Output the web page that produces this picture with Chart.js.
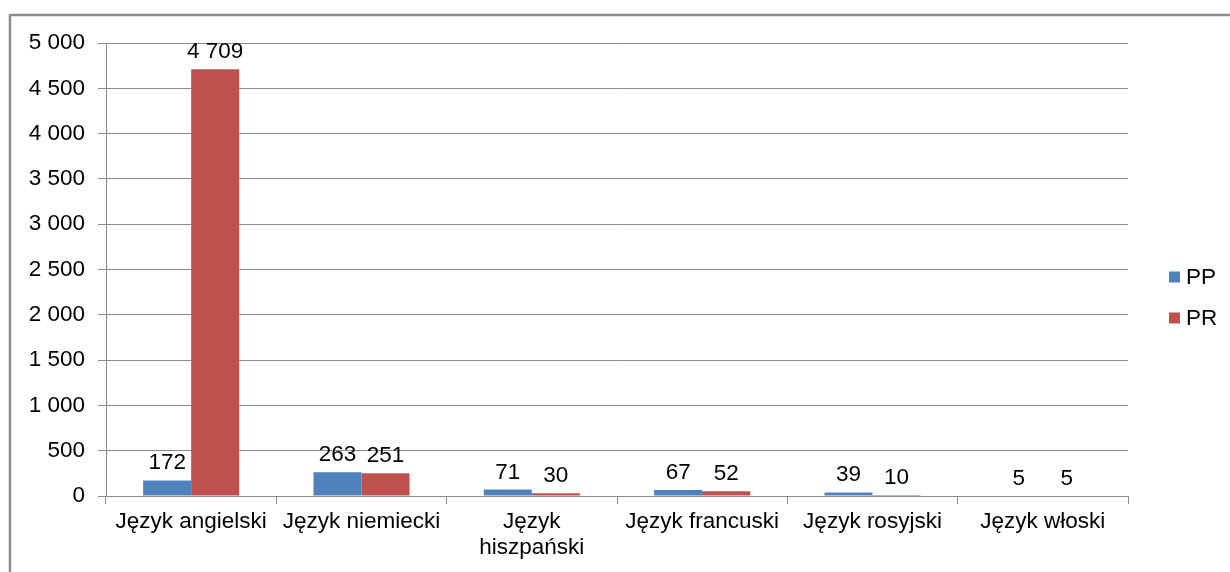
<!DOCTYPE html>
<html>
<head>
<meta charset="utf-8">
<script src="https://cdn.jsdelivr.net/npm/chart.js@4.4.1/dist/chart.umd.min.js"></script>
<style>
  html, body { margin: 0; padding: 0; background: #fff; }
  #wrap { width: 1230px; height: 572px; }
</style>
</head>
<body>
<div id="wrap"><canvas id="chart" width="1230" height="572"></canvas></div>
<script>
const categories = ['Język angielski', 'Język niemiecki', ['Język', 'hiszpański'], 'Język francuski', 'Język rosyjski', 'Język włoski'];
const seriesNames = ['PP', 'PR'];
const ppValues = [172, 263, 71, 67, 39, 5];
const prValues = [4709, 251, 30, 52, 10, 5];
const colors = ['#4F81BD', '#C0504D'];

const FONT = '"Liberation Sans", Arial, sans-serif';
const SIZE = 22.5;
const fmt = v => String(v).replace(/\B(?=(\d{3})+(?!\d))/g, ' ');

// frame, value labels and legend drawn by hand to match the Excel look
const extras = {
    id: 'extras',
    beforeDraw(chart) {
        const ctx = chart.ctx;
        ctx.save();
        ctx.strokeStyle = '#8c8c8c';
        ctx.lineWidth = 2.5;
        ctx.strokeRect(10, 15, 1240, 580);
        ctx.restore();
    },
    afterDatasetsDraw(chart) {
        const ctx = chart.ctx;
        ctx.save();
        ctx.font = SIZE + 'px ' + FONT;
        ctx.fillStyle = '#000';
        ctx.textAlign = 'center';
        ctx.textBaseline = 'bottom';
        chart.data.datasets.forEach((ds, i) => {
            chart.getDatasetMeta(i).data.forEach((bar, j) => {
                ctx.fillText(fmt(ds.data[j]), bar.x, bar.y - 6);
            });
        });
        // legend
        const ys = [277, 318];
        ctx.textAlign = 'left';
        ctx.textBaseline = 'middle';
        chart.data.datasets.forEach((ds, i) => {
            ctx.fillStyle = ds.backgroundColor;
            ctx.fillRect(1169, ys[i] - 5.5, 11, 11);
            ctx.fillStyle = '#000';
            ctx.fillText(ds.label, 1186, ys[i] + 1);
        });
        ctx.restore();
    }
};

new Chart(document.getElementById('chart'), {
    type: 'bar',
    data: {
        labels: categories,
        datasets: [
            { label: seriesNames[0], data: ppValues, backgroundColor: colors[0] },
            { label: seriesNames[1], data: prValues, backgroundColor: colors[1] }
        ]
    },
    options: {
        responsive: false,
        animation: false,
        devicePixelRatio: 1,
        layout: { padding: { top: 43, right: 102, left: 0, bottom: 0 } },
        datasets: { bar: { categoryPercentage: 0.564, barPercentage: 1 } },
        plugins: { legend: { display: false }, tooltip: { enabled: false } },
        scales: {
            x: {
                offset: true,
                grid: { offset: true, drawOnChartArea: false, drawTicks: true, tickLength: 8, color: '#8c8c8c' },
                border: { color: '#8c8c8c', width: 1 },
                ticks: { autoSkip: false, maxRotation: 0, color: '#000',
                    font: { family: FONT, size: SIZE, lineHeight: 1.15 }, padding: 5 },
                afterFit(scale) { scale.height = 76; }
            },
            y: {
                min: 0,
                max: 5000,
                grid: { color: '#8c8c8c', tickLength: 8 },
                border: { color: '#8c8c8c', width: 1 },
                ticks: { stepSize: 500, color: '#000', font: { family: FONT, size: SIZE }, padding: 13,
                    callback: v => fmt(v) },
                afterFit(scale) { scale.width = 106; }
            }
        }
    },
    plugins: [extras]
});
</script>
</body>
</html>
